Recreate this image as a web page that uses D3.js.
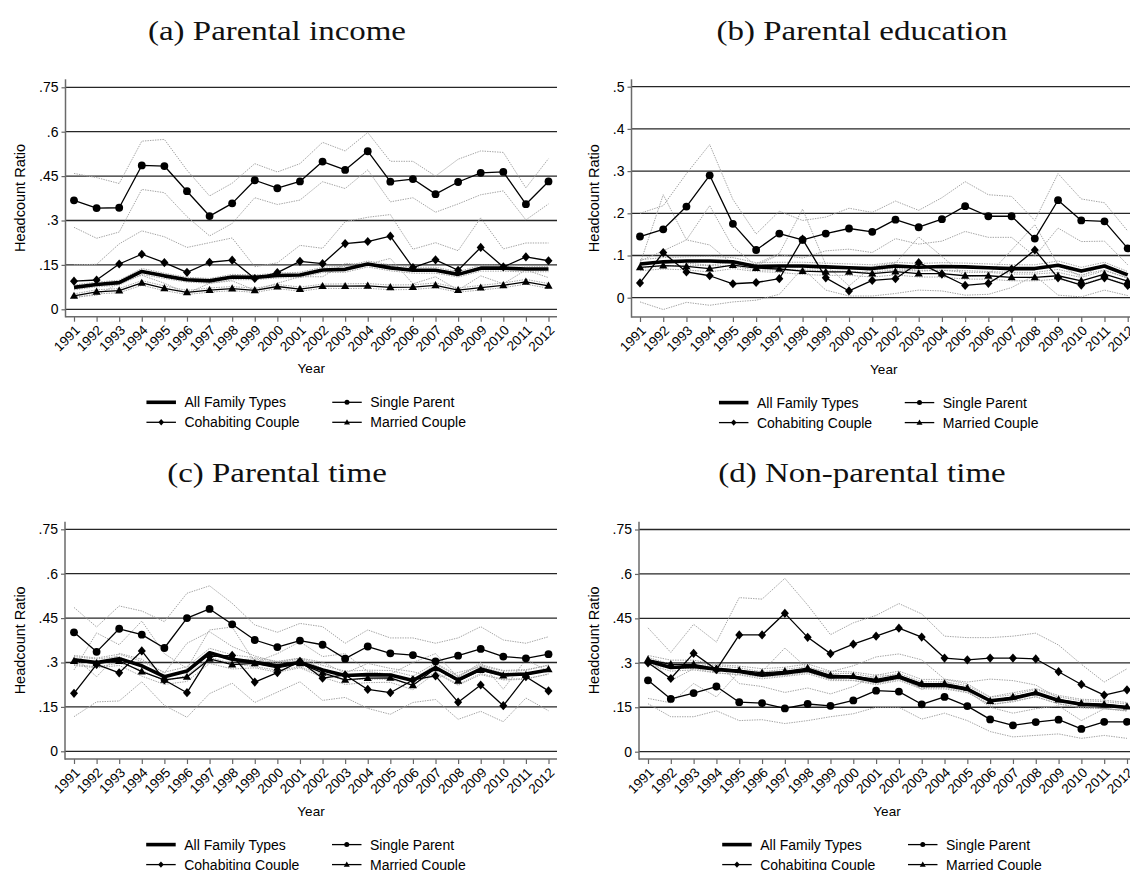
<!DOCTYPE html>
<html><head><meta charset="utf-8">
<script src="https://cdn.jsdelivr.net/npm/d3@7"></script>
<style>html,body{margin:0;padding:0;background:#fff}svg{display:block}</style>
</head><body>
<svg id="chart" width="1130" height="870"></svg>
<script>
// ---------- DATA ----------
const years = [1991,1992,1993,1994,1995,1996,1997,1998,1999,2000,2001,2002,2003,2004,2005,2006,2007,2008,2009,2010,2011,2012];
const seriesNames = ["All Family Types","Single Parent","Cohabiting Couple","Married Couple"];
const panelTitles = ["(a) Parental income","(b) Parental education","(c) Parental time","(d) Non-parental time"];
const yTicks75 = [0,0.15,0.3,0.45,0.6,0.75];
const yLabels75 = ["0",".15",".3",".45",".6",".75"];
const yTicks50 = [0,0.1,0.2,0.3,0.4,0.5];
const yLabels50 = ["0",".1",".2",".3",".4",".5"];
const xTitle = "Year";
const yTitle = "Headcount Ratio";

// (a) Parental income
const allA    = [0.074,0.084,0.090,0.128,0.113,0.100,0.096,0.109,0.108,0.114,0.116,0.133,0.135,0.153,0.140,0.132,0.132,0.118,0.139,0.139,0.136,0.136];
const allA_lo = [0.066,0.076,0.082,0.118,0.104,0.092,0.088,0.100,0.100,0.106,0.107,0.124,0.125,0.143,0.130,0.122,0.122,0.109,0.129,0.129,0.126,0.127];
const allA_hi = [0.082,0.092,0.098,0.138,0.122,0.108,0.104,0.118,0.116,0.122,0.125,0.142,0.145,0.163,0.150,0.142,0.142,0.127,0.149,0.149,0.146,0.145];
const spA     = [0.368,0.342,0.343,0.486,0.484,0.399,0.315,0.358,0.436,0.409,0.432,0.499,0.471,0.534,0.431,0.440,0.389,0.430,0.461,0.464,0.355,0.432];
const spA_hi  = [0.459,0.445,0.425,0.568,0.574,0.470,0.383,0.426,0.492,0.464,0.492,0.564,0.535,0.597,0.500,0.500,0.450,0.507,0.535,0.530,0.410,0.509];
const spA_lo  = [0.277,0.240,0.261,0.405,0.394,0.313,0.248,0.290,0.377,0.354,0.369,0.431,0.408,0.471,0.363,0.377,0.328,0.356,0.387,0.400,0.302,0.356];
const cohA    = [0.095,0.099,0.153,0.186,0.158,0.125,0.159,0.166,0.104,0.124,0.162,0.154,0.222,0.229,0.247,0.141,0.167,0.132,0.209,0.143,0.177,0.164];
const cohA_hi = [0.150,0.152,0.221,0.265,0.245,0.209,0.225,0.241,0.144,0.157,0.216,0.206,0.296,0.311,0.320,0.203,0.225,0.198,0.309,0.204,0.224,0.224];
const cohA_lo = [0.043,0.047,0.088,0.115,0.088,0.054,0.088,0.096,0.065,0.088,0.110,0.110,0.155,0.152,0.172,0.086,0.110,0.065,0.113,0.086,0.133,0.107];
const marA    = [0.045,0.059,0.063,0.089,0.071,0.057,0.065,0.070,0.064,0.077,0.068,0.078,0.078,0.079,0.074,0.075,0.081,0.065,0.073,0.081,0.093,0.079];
const marA_hi = [0.052,0.066,0.070,0.097,0.079,0.064,0.072,0.077,0.071,0.084,0.075,0.085,0.086,0.087,0.082,0.083,0.089,0.072,0.081,0.089,0.101,0.087];
const marA_lo = [0.038,0.052,0.056,0.081,0.063,0.050,0.058,0.063,0.057,0.070,0.061,0.071,0.070,0.071,0.066,0.067,0.073,0.058,0.065,0.073,0.085,0.071];

// (b) Parental education
const allB    = [0.080,0.085,0.087,0.087,0.085,0.074,0.075,0.075,0.073,0.071,0.069,0.075,0.072,0.074,0.073,0.071,0.069,0.069,0.077,0.063,0.075,0.054];
const allB_hi = [0.090,0.095,0.097,0.098,0.095,0.083,0.084,0.084,0.082,0.080,0.078,0.084,0.081,0.083,0.082,0.080,0.078,0.078,0.087,0.072,0.084,0.062];
const allB_lo = [0.070,0.075,0.077,0.076,0.075,0.065,0.066,0.066,0.064,0.062,0.060,0.066,0.063,0.065,0.064,0.062,0.060,0.060,0.067,0.054,0.066,0.046];
const spB     = [0.145,0.162,0.216,0.290,0.175,0.113,0.152,0.137,0.152,0.164,0.156,0.185,0.167,0.186,0.217,0.193,0.193,0.140,0.231,0.183,0.181,0.117];
const spB_hi  = [0.200,0.218,0.294,0.363,0.233,0.151,0.205,0.183,0.191,0.212,0.202,0.229,0.207,0.237,0.275,0.244,0.240,0.183,0.294,0.234,0.225,0.158];
const spB_lo  = [0.087,0.111,0.137,0.218,0.120,0.076,0.102,0.094,0.111,0.115,0.107,0.140,0.127,0.134,0.157,0.143,0.143,0.098,0.165,0.133,0.134,0.078];
const cohB    = [0.035,0.107,0.061,0.052,0.033,0.036,0.045,0.139,0.047,0.016,0.041,0.045,0.083,0.056,0.029,0.034,0.068,0.113,0.047,0.030,0.047,0.029];
const cohB_hi = [0.080,0.244,0.137,0.125,0.079,0.080,0.105,0.210,0.078,0.028,0.074,0.082,0.144,0.098,0.050,0.054,0.113,0.173,0.078,0.050,0.080,0.046];
const cohB_lo = [-0.010,-0.028,-0.011,-0.018,-0.010,-0.006,0.008,0.070,0.018,0.004,0.004,0.010,0.018,0.016,0.006,0.008,0.024,0.053,0.006,0.002,0.018,0.005];
const marB    = [0.072,0.076,0.074,0.069,0.077,0.070,0.068,0.063,0.061,0.061,0.057,0.062,0.057,0.057,0.052,0.052,0.048,0.048,0.052,0.040,0.056,0.039];
const marB_hi = [0.080,0.084,0.082,0.077,0.085,0.078,0.076,0.071,0.069,0.069,0.065,0.070,0.065,0.065,0.060,0.060,0.056,0.056,0.060,0.048,0.064,0.047];
const marB_lo = [0.064,0.068,0.066,0.061,0.069,0.062,0.060,0.055,0.053,0.053,0.049,0.054,0.049,0.049,0.044,0.044,0.040,0.040,0.044,0.032,0.048,0.031];

// (c) Parental time
const allC    = [0.309,0.300,0.313,0.289,0.252,0.271,0.333,0.311,0.301,0.289,0.300,0.275,0.256,0.259,0.258,0.239,0.283,0.241,0.278,0.258,0.261,0.275];
const allC_hi = [0.324,0.315,0.328,0.304,0.267,0.286,0.348,0.326,0.316,0.304,0.315,0.290,0.271,0.274,0.273,0.254,0.298,0.256,0.293,0.273,0.276,0.290];
const allC_lo = [0.294,0.285,0.298,0.274,0.237,0.256,0.318,0.296,0.286,0.274,0.285,0.260,0.241,0.244,0.243,0.224,0.268,0.226,0.263,0.243,0.246,0.260];
const spC     = [0.402,0.336,0.414,0.394,0.349,0.450,0.481,0.429,0.376,0.352,0.374,0.360,0.313,0.354,0.331,0.325,0.304,0.323,0.346,0.320,0.314,0.328];
const spC_hi  = [0.486,0.420,0.491,0.474,0.438,0.534,0.559,0.500,0.427,0.402,0.432,0.421,0.365,0.410,0.383,0.383,0.365,0.383,0.421,0.376,0.365,0.387];
const spC_lo  = [0.320,0.252,0.331,0.311,0.264,0.365,0.404,0.354,0.322,0.301,0.315,0.301,0.264,0.297,0.280,0.269,0.247,0.266,0.286,0.264,0.264,0.273];
const cohC    = [0.196,0.294,0.265,0.339,0.241,0.198,0.320,0.324,0.234,0.266,0.304,0.247,0.258,0.209,0.198,0.241,0.255,0.166,0.224,0.154,0.252,0.204];
const cohC_hi = [0.275,0.400,0.360,0.440,0.330,0.280,0.410,0.420,0.300,0.330,0.370,0.320,0.330,0.270,0.260,0.300,0.330,0.250,0.300,0.210,0.310,0.270];
const cohC_lo = [0.117,0.167,0.170,0.235,0.155,0.115,0.195,0.230,0.165,0.200,0.235,0.172,0.182,0.145,0.125,0.165,0.175,0.108,0.135,0.100,0.180,0.137];
const marC    = [0.305,0.297,0.305,0.269,0.241,0.251,0.312,0.293,0.297,0.282,0.297,0.265,0.241,0.247,0.248,0.223,0.280,0.238,0.274,0.256,0.258,0.277];
const marC_hi = [0.320,0.312,0.320,0.284,0.256,0.266,0.327,0.308,0.312,0.297,0.312,0.280,0.256,0.262,0.263,0.238,0.295,0.253,0.289,0.271,0.273,0.292];
const marC_lo = [0.290,0.282,0.290,0.254,0.226,0.236,0.297,0.278,0.282,0.267,0.282,0.250,0.226,0.232,0.233,0.208,0.265,0.223,0.259,0.241,0.243,0.262];

// (d) Non-parental time
const allD    = [0.306,0.284,0.288,0.278,0.271,0.258,0.266,0.275,0.252,0.252,0.238,0.252,0.224,0.224,0.211,0.172,0.180,0.198,0.173,0.160,0.157,0.149];
const allD_hi = [0.318,0.296,0.300,0.290,0.283,0.270,0.278,0.287,0.264,0.264,0.250,0.264,0.236,0.236,0.223,0.184,0.192,0.210,0.185,0.172,0.169,0.161];
const allD_lo = [0.294,0.272,0.276,0.266,0.259,0.246,0.254,0.263,0.240,0.240,0.226,0.240,0.212,0.212,0.199,0.160,0.168,0.186,0.161,0.148,0.145,0.137];
const spD     = [0.241,0.178,0.198,0.220,0.167,0.164,0.146,0.161,0.155,0.173,0.206,0.203,0.160,0.185,0.154,0.109,0.089,0.100,0.108,0.077,0.101,0.101];
const spD_hi  = [0.320,0.240,0.280,0.300,0.230,0.220,0.200,0.215,0.195,0.220,0.260,0.255,0.210,0.240,0.205,0.150,0.130,0.145,0.155,0.105,0.145,0.155];
const spD_lo  = [0.162,0.118,0.118,0.138,0.105,0.108,0.095,0.105,0.118,0.128,0.150,0.150,0.110,0.130,0.105,0.068,0.050,0.055,0.060,0.045,0.055,0.045];
const cohD    = [0.300,0.247,0.332,0.277,0.394,0.394,0.467,0.386,0.331,0.363,0.390,0.417,0.387,0.316,0.310,0.316,0.316,0.313,0.270,0.227,0.191,0.209];
const cohD_hi = [0.418,0.335,0.430,0.370,0.520,0.515,0.585,0.495,0.395,0.435,0.460,0.500,0.465,0.390,0.385,0.385,0.390,0.400,0.360,0.295,0.235,0.280];
const cohD_lo = [0.180,0.165,0.230,0.185,0.270,0.270,0.350,0.280,0.270,0.290,0.320,0.330,0.310,0.245,0.235,0.245,0.240,0.225,0.180,0.155,0.145,0.140];
const marD    = [0.311,0.295,0.295,0.280,0.275,0.266,0.271,0.282,0.258,0.255,0.244,0.258,0.230,0.230,0.215,0.171,0.185,0.199,0.176,0.163,0.160,0.152];
const marD_hi = [0.325,0.309,0.309,0.294,0.289,0.280,0.285,0.296,0.272,0.269,0.258,0.272,0.244,0.244,0.229,0.185,0.199,0.213,0.190,0.177,0.174,0.166];
const marD_lo = [0.297,0.281,0.281,0.266,0.261,0.252,0.257,0.268,0.244,0.241,0.230,0.244,0.216,0.216,0.201,0.157,0.171,0.185,0.162,0.149,0.146,0.138];

// ---------- LAYOUT ----------
const panels = [
  {title:panelTitles[0], yTicks:yTicks75, yLabels:yLabels75,
   data:{all:allA, sp:spA, coh:cohA, mar:marA},
   ci:[spA_hi,spA_lo,cohA_hi,cohA_lo,allA_hi,allA_lo,marA_hi,marA_lo],
   L:65.5, R:557, x0:74, x1:548.5, y0:309.3, yTop:87.3, aTop:79.3, aBot:316.7, yTitleDx:45.5, tX:277, tY:40},
  {title:panelTitles[1], yTicks:yTicks50, yLabels:yLabels50,
   data:{all:allB, sp:spB, coh:cohB, mar:marB},
   ci:[spB_hi,spB_lo,cohB_hi,cohB_lo,allB_hi,allB_lo,marB_hi,marB_lo],
   L:631.5, R:1136, x0:640, x1:1127.7, y0:297.7, yTop:86.7, aTop:79.3, aBot:317, yTitleDx:38, tX:862, tY:40},
  {title:panelTitles[2], yTicks:yTicks75, yLabels:yLabels75,
   data:{all:allC, sp:spC, coh:cohC, mar:marC},
   ci:[spC_hi,spC_lo,cohC_hi,cohC_lo,allC_hi,allC_lo,marC_hi,marC_lo],
   L:65, R:557, x0:74, x1:548.5, y0:751.3, yTop:529.3, aTop:521.7, aBot:759, yTitleDx:45.5, tX:277, tY:482},
  {title:panelTitles[3], yTicks:yTicks75, yLabels:yLabels75,
   data:{all:allD, sp:spD, coh:cohD, mar:marD},
   ci:[spD_hi,spD_lo,cohD_hi,cohD_lo,allD_hi,allD_lo,marD_hi,marD_lo],
   L:639, R:1135, x0:648, x1:1127, y0:751.7, yTop:529.5, aTop:521.7, aBot:759, yTitleDx:45.5, tX:862, tY:482}
];

const SANS = "'Liberation Sans', Arial, Helvetica, sans-serif";
const SERIF = "'Liberation Serif', 'DejaVu Serif', serif";
const svg = d3.select("#chart");

const diamondPath = s => `M0,${-s*1.15}L${s},0L0,${s*1.15}L${-s},0Z`;
const trianglePath = s => `M0,${-s*1.05}L${s},${s*0.7}L${-s},${s*0.7}Z`;

function marker(g, type, cx, cy, s) {
  if (type === "circle") {
    g.append("circle").attr("cx", cx).attr("cy", cy).attr("r", s).attr("fill", "#000");
  } else if (type === "diamond") {
    g.append("path").attr("d", diamondPath(s)).attr("transform", `translate(${cx},${cy})`).attr("fill", "#000");
  } else if (type === "triangle") {
    g.append("path").attr("d", trianglePath(s)).attr("transform", `translate(${cx},${cy})`).attr("fill", "#000");
  }
}

// title scaling: measure natural width, stretch to CM-like width
const titleFont = 26.5;
let titleK = 1;
{
  const t = svg.append("text").attr("font-family", SERIF).attr("font-size", titleFont).text(panelTitles[0]);
  titleK = 258 / t.node().getComputedTextLength();
  t.remove();
}

panels.forEach(p => {
  const g = svg.append("g");
  const x = d3.scaleLinear().domain([years[0], years[years.length - 1]]).range([p.x0, p.x1]);
  const y = d3.scaleLinear().domain([0, p.yTicks[p.yTicks.length - 1]]).range([p.y0, p.yTop]);
  const cx = (p.L + p.R) / 2;

  // title
  const tt = g.append("text").attr("x", p.tX).attr("y", p.tY).attr("text-anchor", "middle")
    .attr("font-family", SERIF).attr("font-size", titleFont).attr("fill", "#111").text(p.title);
  const nat = tt.node().getComputedTextLength();
  tt.attr("textLength", nat * titleK).attr("lengthAdjust", "spacingAndGlyphs");

  // gridlines
  g.append("g").selectAll("line").data(p.yTicks).join("line")
    .attr("x1", p.L).attr("x2", p.R).attr("y1", d => y(d)).attr("y2", d => y(d))
    .attr("stroke", "#262626").attr("stroke-width", 1.3);

  // y axis
  const ya = d3.axisLeft(y).tickValues(p.yTicks).tickFormat((d, i) => p.yLabels[i]).tickSize(4).tickPadding(3);
  const yg = g.append("g").attr("transform", `translate(${p.L},0)`).call(ya);
  yg.select(".domain").remove();
  yg.selectAll(".tick line").attr("stroke", "#666").attr("stroke-width", 1.2);
  yg.selectAll(".tick text").attr("font-family", SANS).attr("font-size", 14).attr("fill", "#000");
  g.append("line").attr("x1", p.L).attr("x2", p.L).attr("y1", p.aTop).attr("y2", p.aBot + 0.7)
    .attr("stroke", "#6a6a6a").attr("stroke-width", 1.5);

  // x axis
  const xa = d3.axisBottom(x).tickValues(years).tickFormat(d3.format("d")).tickSize(5).tickPadding(0);
  const xg = g.append("g").attr("transform", `translate(0,${p.aBot})`).call(xa);
  xg.select(".domain").remove();
  xg.selectAll(".tick line").attr("stroke", "#666").attr("stroke-width", 1.2);
  xg.selectAll(".tick text").attr("font-family", SANS).attr("font-size", 13.5).attr("fill", "#000")
    .attr("x", 0).attr("y", 0).attr("dy", "0.35em").attr("text-anchor", "end")
    .attr("transform", "translate(3,11) rotate(-45)");
  g.append("line").attr("x1", p.L).attr("x2", p.R).attr("y1", p.aBot).attr("y2", p.aBot)
    .attr("stroke", "#6a6a6a").attr("stroke-width", 1.5);

  // axis titles
  g.append("text").attr("transform", `translate(${p.L - p.yTitleDx},${(p.aTop + p.aBot) / 2}) rotate(-90)`)
    .attr("text-anchor", "middle").attr("dy", "0.35em").attr("font-family", SANS).attr("font-size", 14.5)
    .attr("fill", "#000").text(yTitle);
  g.append("text").attr("x", cx).attr("y", p.aBot + 52).attr("dy", "0.35em").attr("text-anchor", "middle")
    .attr("font-family", SANS).attr("font-size", 13.5).attr("fill", "#000").text(xTitle);

  const line = d3.line().x((d, i) => x(years[i])).y(d => y(d));

  // confidence interval lines
  g.append("g").selectAll("path").data(p.ci).join("path")
    .attr("d", d => line(d)).attr("fill", "none").attr("stroke", "#a4a4a4")
    .attr("stroke-width", 1).attr("stroke-dasharray", "1.4,1.1");

  // main series
  const specs = [
    {key:"mar", w:1.3, m:"triangle", s:4.1},
    {key:"coh", w:1.3, m:"diamond", s:4.0},
    {key:"sp", w:1.3, m:"circle", s:3.9},
    {key:"all", w:3.6, m:null, s:0}
  ];
  specs.forEach(sp => {
    const vals = p.data[sp.key];
    g.append("path").attr("d", line(vals)).attr("fill", "none").attr("stroke", "#000")
      .attr("stroke-width", sp.w).attr("stroke-linejoin", "round");
    if (sp.m) {
      const mg = g.append("g");
      vals.forEach((v, i) => marker(mg, sp.m, x(years[i]), y(v), sp.s));
    }
  });

  // legend
  const lg = g.append("g");
  const rows = [p.aBot + 85.6, p.aBot + 105.6];
  const items = [
    {name:seriesNames[0], col:0, row:0, w:3.6, m:null},
    {name:seriesNames[1], col:1, row:0, w:1.3, m:"circle", s:2.5},
    {name:seriesNames[2], col:0, row:1, w:1.3, m:"diamond", s:2.8},
    {name:seriesNames[3], col:1, row:1, w:1.3, m:"triangle", s:3.0}
  ];
  items.forEach(it => {
    const lx = it.col === 0 ? cx - 164.8 : cx + 21;
    const ly = rows[it.row];
    lg.append("line").attr("x1", lx).attr("x2", lx + 29.5).attr("y1", ly).attr("y2", ly)
      .attr("stroke", "#000").attr("stroke-width", it.w);
    if (it.m) marker(lg, it.m, lx + 14.75, ly, it.s);
    lg.append("text").attr("x", lx + 38).attr("y", ly).attr("dy", "0.35em")
      .attr("font-family", SANS).attr("font-size", 14).attr("fill", "#000").text(it.name);
  });
});
</script>
</body></html>
